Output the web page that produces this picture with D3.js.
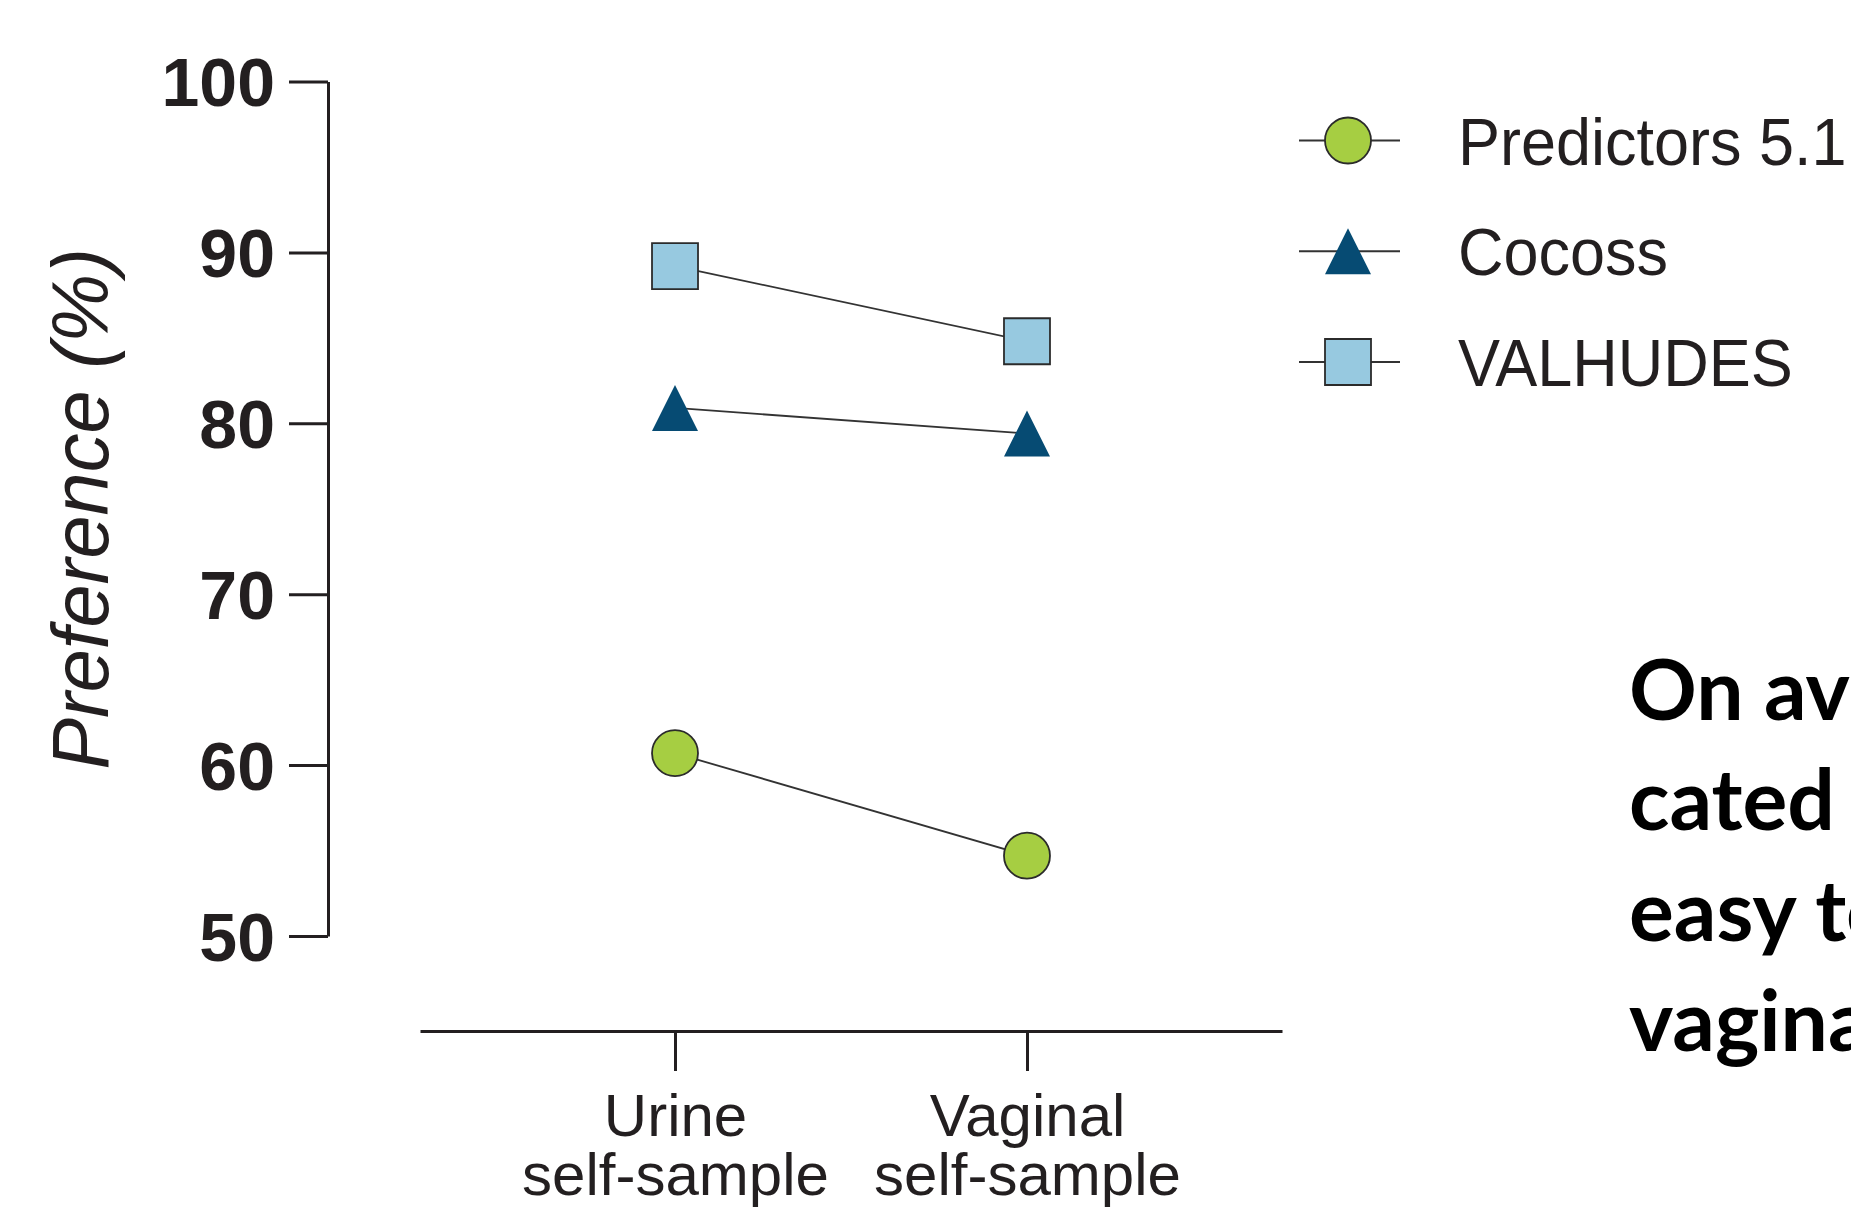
<!DOCTYPE html>
<html>
<head>
<meta charset="utf-8">
<script src="https://cdn.jsdelivr.net/npm/d3@7"></script>
<style>
  html, body { margin: 0; padding: 0; background: #ffffff; overflow: hidden; }
  svg { display: block; }
</style>
</head>
<body>
<script>
// ---- Data ----
const categories = ["Urine self-sample", "Vaginal self-sample"];
const categoryLines = [["Urine", "self-sample"], ["Vaginal", "self-sample"]];
const seriesNames = ["Predictors 5.1", "Cocoss", "VALHUDES"];
const predictorsValues = [60.7, 54.7];
const cocossValues = [80.9, 79.4];
const valhudesValues = [89.2, 84.8];
const yTicks = [50, 60, 70, 80, 90, 100];
const yTitle = "Preference (%)";
const sideTextLines = ["On average", "cated", "easy to", "vaginal"];

// ---- Setup ----
const W = 1851, H = 1209;
const ink = "#231f20";
const svg = d3.select("body").append("svg").attr("width", W).attr("height", H);

const y = d3.scaleLinear().domain([50, 100]).range([936, 81.5]);
const x = d3.scalePoint().domain(categories).range([420, 1282]).padding(0.7245);

// ---- Y axis ----
const yAxis = svg.append("g")
  .attr("transform", "translate(328,0)")
  .call(d3.axisLeft(y).tickValues(yTicks).tickSize(39).tickSizeOuter(0).tickPadding(14));
yAxis.select(".domain").attr("stroke", ink).attr("stroke-width", 3);
yAxis.selectAll(".tick line").attr("stroke", ink).attr("stroke-width", 3);
yAxis.selectAll(".tick text")
  .attr("fill", ink)
  .attr("font-family", "'Liberation Sans', Arial, sans-serif")
  .attr("font-weight", "bold")
  .attr("font-size", 68)
  .attr("dy", "0.36em");

// Y title
svg.append("text")
  .attr("transform", "translate(108,509) rotate(-90) scale(0.97,1)")
  .attr("text-anchor", "middle")
  .attr("fill", ink)
  .attr("font-family", "'Liberation Sans', Arial, sans-serif")
  .attr("font-style", "italic")
  .attr("font-size", 80)
  .text(yTitle);

// ---- X axis ----
const xAxis = svg.append("g")
  .attr("transform", "translate(0,1031)")
  .call(d3.axisBottom(x).tickSize(40).tickSizeOuter(0).tickFormat(() => ""));
xAxis.select(".domain").attr("stroke", ink).attr("stroke-width", 3);
xAxis.selectAll(".tick line").attr("stroke", ink).attr("stroke-width", 3);
xAxis.selectAll(".tick").each(function(d, i) {
  const t = d3.select(this).select("text")
    .attr("y", 105).attr("dy", 0)
    .attr("fill", ink)
    .attr("font-family", "'Liberation Sans', Arial, sans-serif")
    .attr("font-size", 60);
  categoryLines[i].forEach((ln, j) => {
    t.append("tspan").attr("x", 0).attr("dy", j === 0 ? 0 : 59).text(ln);
  });
});

// ---- Series ----
const triangleType = {
  draw(ctx, size) {
    const h = Math.sqrt(size);
    ctx.moveTo(0, -h / 2);
    ctx.lineTo(h / 2, h / 2);
    ctx.lineTo(-h / 2, h / 2);
    ctx.closePath();
  }
};
const series = [
  { name: seriesNames[0], values: predictorsValues, type: d3.symbolCircle, size: Math.PI * 23 * 23, fill: "#a6ce42", stroke: "#2b2b2b" },
  { name: seriesNames[1], values: cocossValues, type: triangleType, size: 46 * 46, fill: "#064b73", stroke: "none" },
  { name: seriesNames[2], values: valhudesValues, type: d3.symbolSquare, size: 46 * 46, fill: "#97c9e0", stroke: "#2b2b2b" }
];

const line = d3.line().x((d, i) => x(categories[i])).y(d => y(d));
svg.append("g").selectAll("path").data(series).join("path")
  .attr("d", s => line(s.values))
  .attr("fill", "none").attr("stroke", "#333333").attr("stroke-width", 1.8);

series.forEach(s => {
  svg.append("g").selectAll("path").data(s.values).join("path")
    .attr("transform", (d, i) => `translate(${x(categories[i])},${y(d)})`)
    .attr("d", d3.symbol().type(s.type).size(s.size)())
    .attr("fill", s.fill)
    .attr("stroke", s.stroke)
    .attr("stroke-width", 1.8);
});

// ---- Legend ----
const ly = d3.scalePoint().domain(seriesNames).range([140.5, 362]);
const legend = svg.append("g");
series.forEach(s => {
  const g = legend.append("g").attr("transform", `translate(0,${ly(s.name)})`);
  g.append("line").attr("x1", 1299).attr("x2", 1400).attr("y1", 0).attr("y2", 0)
    .attr("stroke", "#333333").attr("stroke-width", 1.8);
  g.append("path").attr("transform", "translate(1348,0)")
    .attr("d", d3.symbol().type(s.type).size(s.size)())
    .attr("fill", s.fill).attr("stroke", s.stroke).attr("stroke-width", 1.8);
  g.append("text")
    .attr("transform", "translate(1458,0) scale(0.94,1)")
    .attr("dy", "0.36em")
    .attr("fill", ink)
    .attr("font-family", "'Liberation Sans', Arial, sans-serif")
    .attr("font-size", 67)
    .text(s.name);
});

// ---- Side text ----
const sy = d3.scalePoint().domain(d3.range(sideTextLines.length)).range([720, 1051]);
svg.append("g").selectAll("text").data(sideTextLines).join("text")
  .attr("transform", (d, i) => `translate(1629,${sy(i)}) scale(1.0,1)`)
  .attr("fill", "#000000")
  .attr("font-family", "Lato, 'Open Sans', sans-serif")
  .attr("font-weight", "bold")
  .attr("font-size", 84)
  .text(d => d);
</script>
</body>
</html>
